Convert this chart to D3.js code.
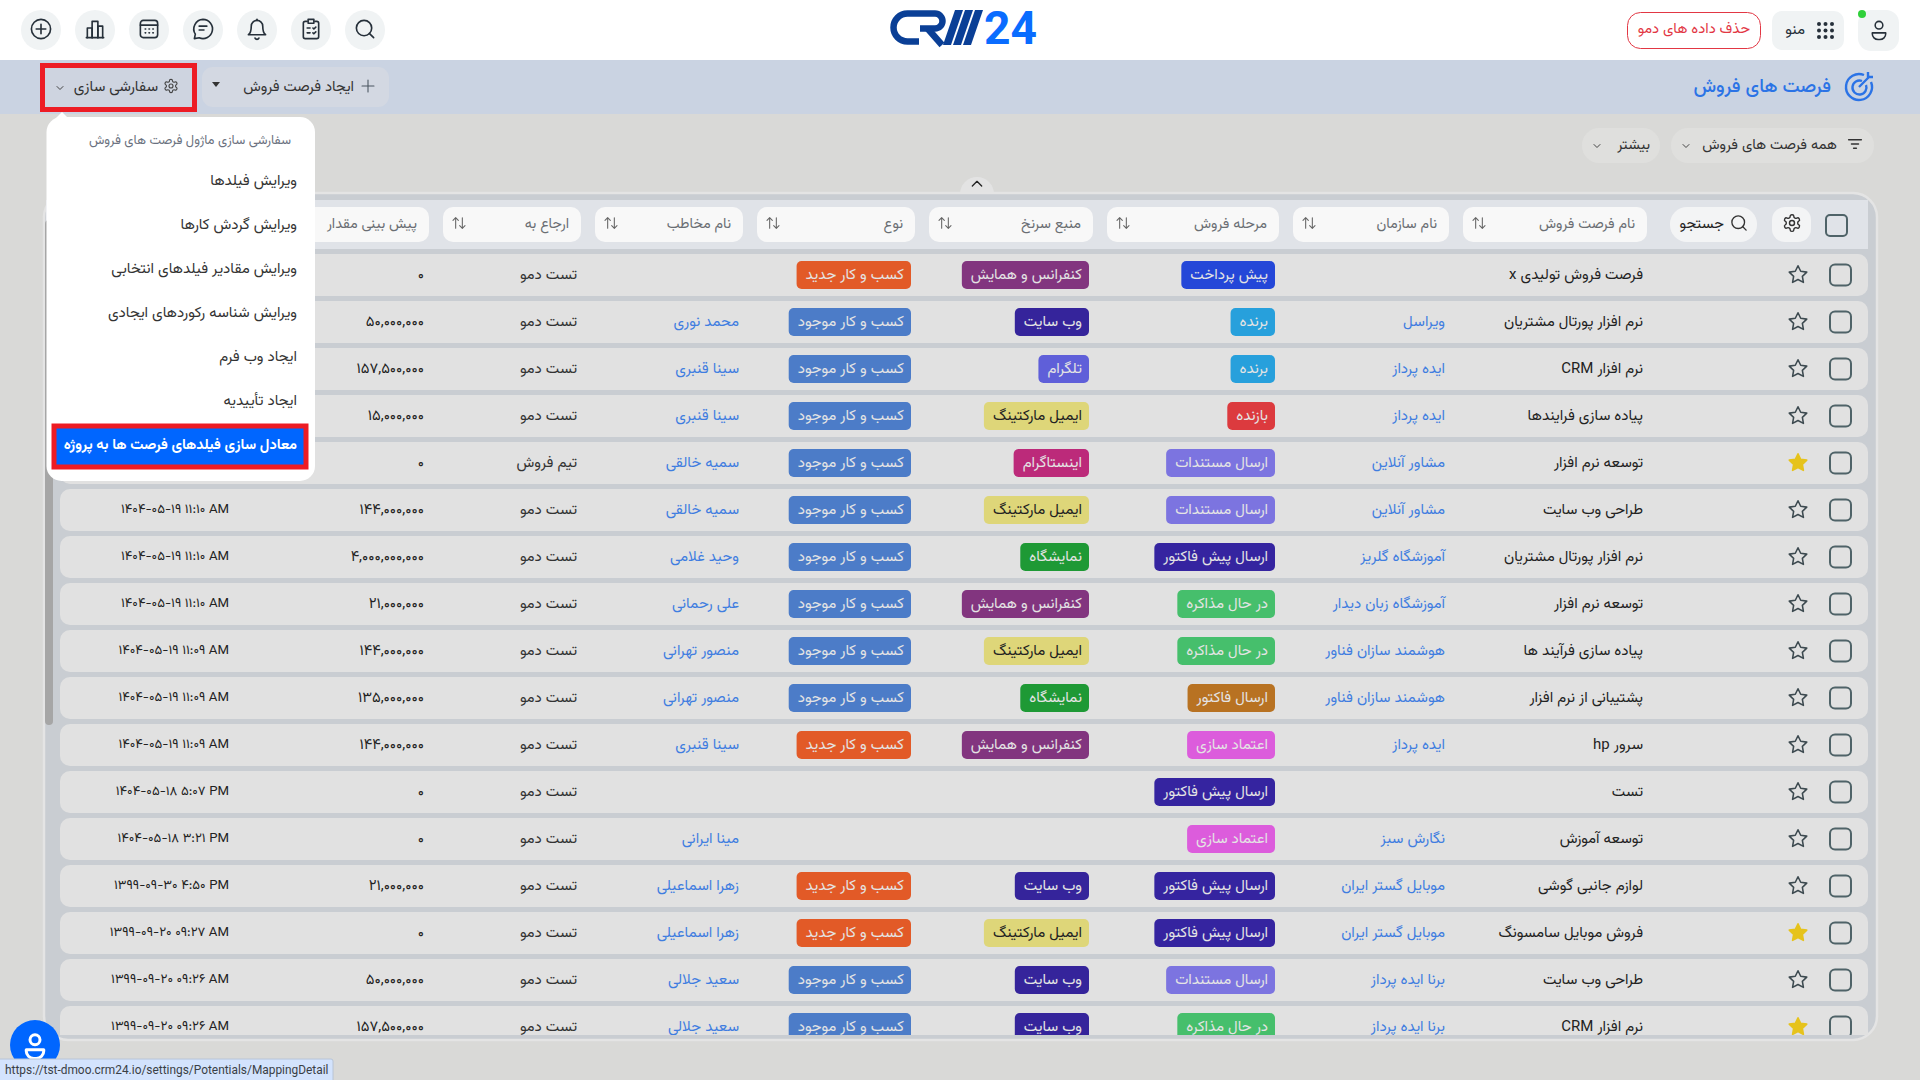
<!DOCTYPE html>
<html>
<head>
    <meta charset="utf-8">
    <title>فرصت های فروش</title>
    <script src="https://cdn.jsdelivr.net/npm/d3@7"></script>
    <style>
        html, body { margin: 0; padding: 0; background: #d9d9d7; overflow: hidden; }
        svg { display: block; }
        text { font-family: "Vazirmatn", "Noto Sans Arabic", "Noto Naskh Arabic", "DejaVu Sans", Roboto, sans-serif; }
        .latin { font-family: Roboto, "Liberation Sans", sans-serif; }
    </style>
</head>
<body>
<svg id="chart" width="1920" height="1080"></svg>
<script>
    // table columns
    var names = ['فرصت فروش تولیدی x', 'نرم افزار پورتال مشتریان', 'نرم افزار CRM', 'پیاده سازی فرایندها', 'توسعه نرم افزار', 'طراحی وب سایت', 'نرم افزار پورتال مشتریان', 'توسعه نرم افزار', 'پیاده سازی فرآیند ها', 'پشتیبانی از نرم افزار', 'سرور hp', 'تست', 'توسعه آموزش', 'لوازم جانبی گوشی', 'فروش موبایل سامسونگ', 'طراحی وب سایت', 'نرم افزار CRM'];
    var orgs = ['', 'ویراسل', 'ایده پرداز', 'ایده پرداز', 'مشاور آنلاین', 'مشاور آنلاین', 'آموزشگاه گلریز', 'آموزشگاه زبان دیدار', 'هوشمند سازان فناور', 'هوشمند سازان فناور', 'ایده پرداز', '', 'نگارش سبز', 'موبایل گستر ایران', 'موبایل گستر ایران', 'برنا ایده پرداز', 'برنا ایده پرداز'];
    var stages = ['پیش پرداخت', 'برنده', 'برنده', 'بازنده', 'ارسال مستندات', 'ارسال مستندات', 'ارسال پیش فاکتور', 'در حال مذاکره', 'در حال مذاکره', 'ارسال فاکتور', 'اعتماد سازی', 'ارسال پیش فاکتور', 'اعتماد سازی', 'ارسال پیش فاکتور', 'ارسال پیش فاکتور', 'ارسال مستندات', 'در حال مذاکره'];
    var sources = ['کنفرانس و همایش', 'وب سایت', 'تلگرام', 'ایمیل مارکتینگ', 'اینستاگرام', 'ایمیل مارکتینگ', 'نمایشگاه', 'کنفرانس و همایش', 'ایمیل مارکتینگ', 'نمایشگاه', 'کنفرانس و همایش', '', '', 'وب سایت', 'ایمیل مارکتینگ', 'وب سایت', 'وب سایت'];
    var types = ['کسب و کار جدید', 'کسب و کار موجود', 'کسب و کار موجود', 'کسب و کار موجود', 'کسب و کار موجود', 'کسب و کار موجود', 'کسب و کار موجود', 'کسب و کار موجود', 'کسب و کار موجود', 'کسب و کار موجود', 'کسب و کار جدید', '', '', 'کسب و کار جدید', 'کسب و کار جدید', 'کسب و کار موجود', 'کسب و کار موجود'];
    var contacts = ['', 'محمد نوری', 'سینا قنبری', 'سینا قنبری', 'سمیه خالقی', 'سمیه خالقی', 'وحید غلامی', 'علی رحمانی', 'منصور تهرانی', 'منصور تهرانی', 'سینا قنبری', '', 'مینا ایرانی', 'زهرا اسماعیلی', 'زهرا اسماعیلی', 'سعید جلالی', 'سعید جلالی'];
    var assignees = ['تست دمو', 'تست دمو', 'تست دمو', 'تست دمو', 'تیم فروش', 'تست دمو', 'تست دمو', 'تست دمو', 'تست دمو', 'تست دمو', 'تست دمو', 'تست دمو', 'تست دمو', 'تست دمو', 'تست دمو', 'تست دمو', 'تست دمو'];
    var amounts = [0, 50000000, 157500000, 15000000, 0, 144000000, 4000000000, 21000000, 144000000, 135000000, 144000000, 0, 0, 21000000, 0, 50000000, 157500000];
    // the first five dates are hidden behind the open menu
    var dates = ['', '', '', '', '', '۱۴۰۴-۰۵-۱۹ ۱۱:۱۰ AM', '۱۴۰۴-۰۵-۱۹ ۱۱:۱۰ AM', '۱۴۰۴-۰۵-۱۹ ۱۱:۱۰ AM', '۱۴۰۴-۰۵-۱۹ ۱۱:۰۹ AM', '۱۴۰۴-۰۵-۱۹ ۱۱:۰۹ AM', '۱۴۰۴-۰۵-۱۹ ۱۱:۰۹ AM', '۱۴۰۴-۰۵-۱۸ ۵:۰۷ PM', '۱۴۰۴-۰۵-۱۸ ۳:۲۱ PM', '۱۳۹۹-۰۹-۳۰ ۴:۵۰ PM', '۱۳۹۹-۰۹-۲۰ ۰۹:۲۷ AM', '۱۳۹۹-۰۹-۲۰ ۰۹:۲۶ AM', '۱۳۹۹-۰۹-۲۰ ۰۹:۲۶ AM'];
    var favourites = [0, 0, 0, 0, 1, 0, 0, 0, 0, 0, 0, 0, 0, 0, 1, 0, 1];

    var headerLabels = ['پیش بینی مقدار', 'ارجاع به', 'نام مخاطب', 'نوع', 'منبع سرنخ', 'مرحله فروش', 'نام سازمان', 'نام فرصت فروش'];
    var menuItems = ['ویرایش فیلدها', 'ویرایش گردش کارها', 'ویرایش مقادیر فیلدهای انتخابی', 'ویرایش شناسه رکوردهای ایجادی', 'ایجاد وب فرم', 'ایجاد تأییدیه'];
    var stageNames = ['پیش پرداخت', 'برنده', 'بازنده', 'ارسال مستندات', 'ارسال پیش فاکتور', 'در حال مذاکره', 'ارسال فاکتور', 'اعتماد سازی'];
    var sourceNames = ['کنفرانس و همایش', 'وب سایت', 'تلگرام', 'ایمیل مارکتینگ', 'اینستاگرام', 'نمایشگاه'];
    var typeNames = ['کسب و کار جدید', 'کسب و کار موجود'];
    var columnKeys = ['date', 'amount', 'assignee', 'contact', 'type', 'source', 'stage', 'org', 'name'];

    var FONT = 15;
    var svg = d3.select('#chart');

    // scales
    var rowY = d3.scaleLinear().domain([0, 1]).range([275, 322]);
    var colRight = d3.scaleOrdinal().domain(columnKeys).range([229, 424, 577, 739, 911, 1089, 1275, 1445, 1643]);
    var stageColor = d3.scaleOrdinal().domain(stageNames).range(['#2447d8', '#27a0dc', '#dc3a3e', '#7c74e0', '#3524a0', '#46bf6c', '#b87222', '#dc5cdc']);
    var sourceColor = d3.scaleOrdinal().domain(sourceNames).range(['#82357f', '#35249b', '#5f5fd9', '#ded679', '#bc2a7a', '#1e9935']);
    var typeColor = d3.scaleOrdinal().domain(typeNames).range(['#e25a27', '#4c7cc8']);

    function toPersian(n) {
        return d3.format(',')(n).replace(/\d/g, function(c) { return '۰۱۲۳۴۵۶۷۸۹'[+c]; });
    }

    function label(parent, x, y, str, size, color, weight) {
        return parent.append('text')
            .attr('x', x).attr('y', y)
            .attr('direction', 'rtl').attr('text-anchor', 'start')
            .attr('dominant-baseline', 'central')
            .attr('font-size', size).attr('fill', color)
            .attr('font-weight', weight || 400)
            .text(str);
    }

    // stroke icon drawn in a 24 box
    function icon(parent, cx, cy, size, parts, color, sw) {
        var g = parent.append('g')
            .attr('transform', 'translate(' + (cx - size / 2) + ',' + (cy - size / 2) + ') scale(' + size / 24 + ')')
            .attr('fill', 'none').attr('stroke', color || '#333').attr('stroke-width', sw || 2)
            .attr('stroke-linecap', 'round').attr('stroke-linejoin', 'round');
        parts.forEach(function(d) { g.append('path').attr('d', d); });
        return g;
    }
    var circ = function(x, y, r) { return 'M' + (x - r) + ',' + y + 'a' + r + ',' + r + ' 0 1,0 ' + 2 * r + ',0a' + r + ',' + r + ' 0 1,0 ' + (-2 * r) + ',0z'; };
    var ICONS = {
        add: [circ(12, 12, 10), 'M12 7v10M7 12h10'],
        bars: ['M3 21h18', 'M4 21V11h5v10', 'M9 21V4h6v17', 'M15 21V9h5v12'],
        calendar: ['M6 3h12a3 3 0 0 1 3 3v12a3 3 0 0 1-3 3H6a3 3 0 0 1-3-3V6a3 3 0 0 1 3-3z', 'M3 8h18', 'M8 12h.5M12 12h.5M16 12h.5M12 16h.5M16 16h.5M8 16h.5'],
        chat: ['M12 2a10 10 0 1 1-4 19.2L3 22l1-4.6A10 10 0 0 1 12 2z', 'M8 9h8M8 13h5'],
        bell: ['M18 9a6 6 0 0 0-12 0c0 7-2 8-3 9h18c-1-1-3-2-3-9', 'M10 21.5a2.2 2.2 0 0 0 4 0', 'M12 3V1.8'],
        clipboard: ['M8 4H6a2 2 0 0 0-2 2v14a2 2 0 0 0 2 2h12a2 2 0 0 0 2-2V6a2 2 0 0 0-2-2h-2', 'M9 2h6v4H9z', 'M8 11h3M14 11l1 1 2-2M8 16h3M14 16l1 1 2-2'],
        search: [circ(11, 11, 8), 'M21 21l-4.5-4.5'],
        gear: ['M12.22 2h-.44a2 2 0 0 0-2 2v.18a2 2 0 0 1-1 1.73l-.43.25a2 2 0 0 1-2 0l-.15-.08a2 2 0 0 0-2.73.73l-.22.38a2 2 0 0 0 .73 2.73l.15.1a2 2 0 0 1 1 1.72v.51a2 2 0 0 1-1 1.74l-.15.09a2 2 0 0 0-.73 2.73l.22.38a2 2 0 0 0 2.73.73l.15-.08a2 2 0 0 1 2 0l.43.25a2 2 0 0 1 1 1.73V20a2 2 0 0 0 2 2h.44a2 2 0 0 0 2-2v-.18a2 2 0 0 1 1-1.73l.43-.25a2 2 0 0 1 2 0l.15.08a2 2 0 0 0 2.73-.73l.22-.39a2 2 0 0 0-.73-2.73l-.15-.08a2 2 0 0 1-1-1.74v-.5a2 2 0 0 1 1-1.74l.15-.09a2 2 0 0 0 .73-2.73l-.22-.38a2 2 0 0 0-2.73-.73l-.15.08a2 2 0 0 1-2 0l-.43-.25a2 2 0 0 1-1-1.73V4a2 2 0 0 0-2-2z', circ(12, 12, 3)],
        star: ['M12 2l3.09 6.26L22 9.27l-5 4.87 1.18 6.88L12 17.77l-6.18 3.25L7 14.14 2 9.27l6.91-1.01z'],
        chevronDown: ['M6 9l6 6 6-6'],
        chevronUp: ['M5 15l7-7 7 7'],
        plus: ['M12 3v18M3 12h18'],
        sort: ['M7 20V4M3 8l4-4 4 4', 'M17 4v16M13 16l4 4 4-4'],
        filter: ['M3 6h18M7 12h10M10 18h4'],
        user: [circ(12, 7, 4), 'M5 15h14v1a6 6 0 0 1-6 6h-2a6 6 0 0 1-6-6z']
    };

    // page background and top bar
    svg.append('rect').attr('width', 1920).attr('height', 1080).attr('fill', '#d9d9d7');
    svg.append('rect').attr('width', 1920).attr('height', 60).attr('fill', '#fff');
    svg.append('rect').attr('y', 60).attr('width', 1920).attr('height', 54).attr('fill', '#cad3e2');

    var topIcons = ['add', 'bars', 'calendar', 'chat', 'bell', 'clipboard', 'search'];
    var topX = d3.scalePoint().domain(topIcons).range([41, 365]);
    topIcons.forEach(function(k) {
        svg.append('circle').attr('cx', topX(k)).attr('cy', 30).attr('r', 20).attr('fill', '#f0f3f4');
        icon(svg, topX(k), 29, 23, ICONS[k], '#26303a', 1.7);
    });

    // logo
    var logo = svg.append('g').attr('fill', 'none').attr('stroke', '#0a3f96').attr('stroke-width', 6.5);
    logo.append('path').attr('d', 'M920,13.5 H907.5 A14,14 0 0 0 907.5,41.5 H919');
    logo.append('path').attr('d', 'M920,13.5 H935 A7.5,7.5 0 0 1 935,28.5 H920');
    logo.append('path').attr('d', 'M928,29 L942,45');
    [0, 1, 2].forEach(function(i) {
        logo.append('path').attr('stroke', 'none').attr('fill', '#0a3f96')
            .attr('d', 'M' + (955 + i * 10) + ',10 h8 L' + (951 + i * 10) + ',45 h-8 z');
    });
    logo.append('text').attr('class', 'latin').attr('stroke', 'none').attr('x', 984).attr('y', 44)
        .attr('font-size', 46).attr('font-weight', 700).attr('fill', '#0a6cff').attr('textLength', 53).attr('lengthAdjust', 'spacingAndGlyphs').text('24');

    // top right buttons
    svg.append('rect').attr('x', 1858).attr('y', 10).attr('width', 41).attr('height', 41).attr('rx', 13).attr('fill', '#f0f3f4');
    icon(svg, 1879, 30, 23, ICONS.user, '#26303a', 1.6);
    svg.append('circle').attr('cx', 1862).attr('cy', 14).attr('r', 4).attr('fill', '#2fd03a');
    svg.append('rect').attr('x', 1772).attr('y', 11).attr('width', 72).attr('height', 39).attr('rx', 10).attr('fill', '#f0f3f4');
    d3.cross(d3.range(3), d3.range(3)).forEach(function(p) {
        svg.append('circle').attr('cx', 1819 + p[0] * 6.5).attr('cy', 24 + p[1] * 6.5).attr('r', 2).attr('fill', '#26303a');
    });
    label(svg, 1805, 30, 'منو', FONT, '#26303a');
    svg.append('rect').attr('x', 1627.5).attr('y', 12.5).attr('width', 133).attr('height', 36).attr('rx', 13).attr('fill', '#fff').attr('stroke', '#e23744');
    label(svg, 1750, 29, 'حذف داده های دمو', 14.7, '#e23744');

    // title band
    label(svg, 1831, 87, 'فرصت های فروش', 19, '#2b73e6', 500);
    var target = svg.append('g').attr('fill', 'none').attr('stroke', '#2b73e6').attr('stroke-width', 2.4);
    target.append('path').attr('d', 'M1864,75 A13,13 0 1 0 1871,82');
    target.append('path').attr('d', 'M1862,81 A7,7 0 1 0 1866,85');
    target.append('path').attr('d', 'M1859,87 L1870,76 M1868,72 v5 h5');

    svg.append('rect').attr('x', 202).attr('y', 67).attr('width', 187).attr('height', 40).attr('rx', 11).attr('fill', '#d3d8e2');
    icon(svg, 368, 86, 16, ICONS.plus, '#4a5560', 1.6);
    label(svg, 354, 87, 'ایجاد فرصت فروش', 14.8, '#333');
    svg.append('path').attr('d', 'M212,82 h8 l-4,5 z').attr('fill', '#333');

    // filter pills
    svg.append('rect').attr('x', 1671).attr('y', 128).attr('width', 203).attr('height', 35).attr('rx', 17).attr('fill', '#dfdfdd');
    icon(svg, 1855, 144, 17, ICONS.filter, '#333', 2);
    label(svg, 1837, 145, 'همه فرصت های فروش', 14.6, '#333');
    icon(svg, 1686, 146, 12, ICONS.chevronDown, '#444', 2);
    svg.append('rect').attr('x', 1582).attr('y', 128).attr('width', 78).attr('height', 35).attr('rx', 17).attr('fill', '#dfdfdd');
    label(svg, 1650, 145, 'بیشتر', 14.6, '#333');
    icon(svg, 1597, 146, 12, ICONS.chevronDown, '#444', 2);

    // table frame
    svg.append('circle').attr('cx', 977).attr('cy', 194).attr('r', 17).attr('fill', '#e3e3e3');
    icon(svg, 977, 184, 16, ICONS.chevronUp, '#222', 2);
    svg.append('rect').attr('x', 44).attr('y', 193).attr('width', 1833).attr('height', 847).attr('rx', 24)
        .attr('fill', '#c9cdd2').attr('stroke', '#e4e4e4').attr('stroke-width', 2.5);
    svg.append('rect').attr('x', 46).attr('y', 200).attr('width', 1822).attr('height', 49).attr('fill', '#e0e3e8');

    // scrollbar
    svg.append('rect').attr('x', 45).attr('y', 220).attr('width', 8).attr('height', 505).attr('rx', 4).attr('fill', '#a6a6a6');

    // header cells, the first one runs under the open menu
    var headerLeft = d3.scaleOrdinal().domain(headerLabels).range([270, 443, 595, 757, 929, 1107, 1293, 1463]);
    var headerRight = d3.scaleOrdinal().domain(headerLabels).range([429, 581, 743, 915, 1093, 1279, 1449, 1647]);
    headerLabels.forEach(function(h) {
        var x0 = headerLeft(h), x1 = headerRight(h);
        svg.append('rect').attr('x', x0).attr('y', 207).attr('width', x1 - x0).attr('height', 35).attr('rx', 10).attr('fill', '#f8f8f8');
        label(svg, x1 - 12, 224, h, 14.4, '#6a6e73');
        icon(svg, x0 + 16, 223, 16, ICONS.sort, '#666', 1.6);
    });
    svg.append('rect').attr('x', 1670).attr('y', 207).attr('width', 87).attr('height', 35).attr('rx', 17).attr('fill', '#f3f4f5');
    icon(svg, 1739, 223, 19, ICONS.search, '#333', 1.7);
    label(svg, 1724, 224, 'جستجو', 14.8, '#222');
    svg.append('rect').attr('x', 1772).attr('y', 207).attr('width', 39).attr('height', 35).attr('rx', 13).attr('fill', '#f3f4f5');
    icon(svg, 1792, 223, 20, ICONS.gear, '#333', 1.7);
    svg.append('rect').attr('x', 1826).attr('y', 215).attr('width', 21).attr('height', 21).attr('rx', 4).attr('fill', 'none').attr('stroke', '#4f6368').attr('stroke-width', 2);

    // rows are cut off at the bottom of the table
    svg.append('clipPath').attr('id', 'rows-clip').append('rect').attr('x', 0).attr('y', 250).attr('width', 1920).attr('height', 785);
    var rows = svg.append('g').attr('clip-path', 'url(#rows-clip)')
        .selectAll('g').data(names).join('g')
        .attr('transform', function(d, i) { return 'translate(0,' + rowY(i) + ')'; });

    rows.append('rect').attr('x', 60).attr('y', -21).attr('width', 1808).attr('height', 42).attr('rx', 10).attr('fill', '#e1e1e1');

    rows.each(function(d, i) {
        var row = d3.select(this);
        row.append('rect').attr('x', 1830).attr('y', -10.5).attr('width', 21).attr('height', 21).attr('rx', 5)
            .attr('fill', 'none').attr('stroke', '#4f6368').attr('stroke-width', 2);
        var star = icon(row, 1798, -0.5, 21, ICONS.star, favourites[i] ? '#e6c31c' : '#3d4a50', 1.8);
        if (favourites[i]) star.attr('fill', '#e6c31c');

        label(row, colRight('name'), 0, d, FONT, '#222');
        if (orgs[i]) label(row, colRight('org'), 0, orgs[i], FONT, '#3f7de0');
        if (contacts[i]) label(row, colRight('contact'), 0, contacts[i], FONT, '#3f7de0');
        label(row, colRight('assignee'), 0, assignees[i], FONT, '#333');

        row.append('text').attr('x', colRight('amount')).attr('y', 0).attr('text-anchor', 'end')
            .attr('dominant-baseline', 'central').attr('font-size', 14.8).attr('fill', '#222').text(toPersian(amounts[i]));
        if (dates[i]) {
            row.append('text').attr('x', colRight('date')).attr('y', -1).attr('text-anchor', 'end').attr('direction', 'ltr')
                .attr('dominant-baseline', 'central').attr('font-size', 13.2).attr('fill', '#222').text(dates[i]);
        }

        badge(row, colRight('stage'), stages[i], stageColor);
        badge(row, colRight('source'), sources[i], sourceColor);
        badge(row, colRight('type'), types[i], typeColor);
    });

    function badge(row, right, str, color) {
        if (!str) return;
        var dark = str === 'ایمیل مارکتینگ';
        var box = row.append('rect').attr('y', -14).attr('height', 28).attr('rx', 5).attr('fill', color(str));
        var t = label(row, right - 7, 0, str, FONT, dark ? '#222' : '#e4e4e4');
        var w = t.node().getComputedTextLength() + 16;
        box.attr('x', right - w).attr('width', w);
    }

    // open customise menu
    svg.append('path').attr('d', 'M56,118 L62,112 L68,118 z').attr('fill', '#fff');
    svg.append('rect').attr('x', 46.5).attr('y', 117).attr('width', 268.5).attr('height', 364).attr('rx', 15).attr('fill', '#fff');
    label(svg, 291, 141, 'سفارشی سازی ماژول فرصت های فروش', 13, '#6b7280');
    var menuY = d3.scaleLinear().domain([0, 1]).range([181, 225]);
    menuItems.forEach(function(m, i) {
        label(svg, 297, menuY(i), m, FONT, '#333');
    });
    svg.append('rect').attr('x', 54).attr('y', 426).attr('width', 252).attr('height', 41).attr('fill', '#0066ff').attr('stroke', '#ed1c24').attr('stroke-width', 5);
    label(svg, 297, 445, 'معادل سازی فیلدهای فرصت ها به پروژه', 14.6, '#fff', 700);

    // customise button with the red marker
    svg.append('rect').attr('x', 42.5).attr('y', 65.5).attr('width', 152).attr('height', 44).attr('fill', '#ced4e0').attr('stroke', '#ed1c24').attr('stroke-width', 5);
    icon(svg, 171, 86, 16, ICONS.gear, '#444', 1.7);
    label(svg, 158, 87, 'سفارشی سازی', FONT, '#333');
    icon(svg, 60, 88, 12, ICONS.chevronDown, '#444', 2);

    // chat bubble and browser status bar
    svg.append('circle').attr('cx', 35).attr('cy', 1045).attr('r', 25).attr('fill', '#0066ff');
    icon(svg, 35, 1046, 30, ICONS.user, '#fff', 2.4);
    svg.append('rect').attr('x', -2).attr('y', 1059).attr('width', 335).attr('height', 24).attr('rx', 2).attr('fill', '#d3e3fd').attr('stroke', '#b8c4d6');
    svg.append('text').attr('class', 'latin').attr('x', 5).attr('y', 1070).attr('dominant-baseline', 'central')
        .attr('font-size', 11.9).attr('fill', '#3a3f45').text('https://tst-dmoo.crm24.io/settings/Potentials/MappingDetail');
</script>
</body>
</html>
